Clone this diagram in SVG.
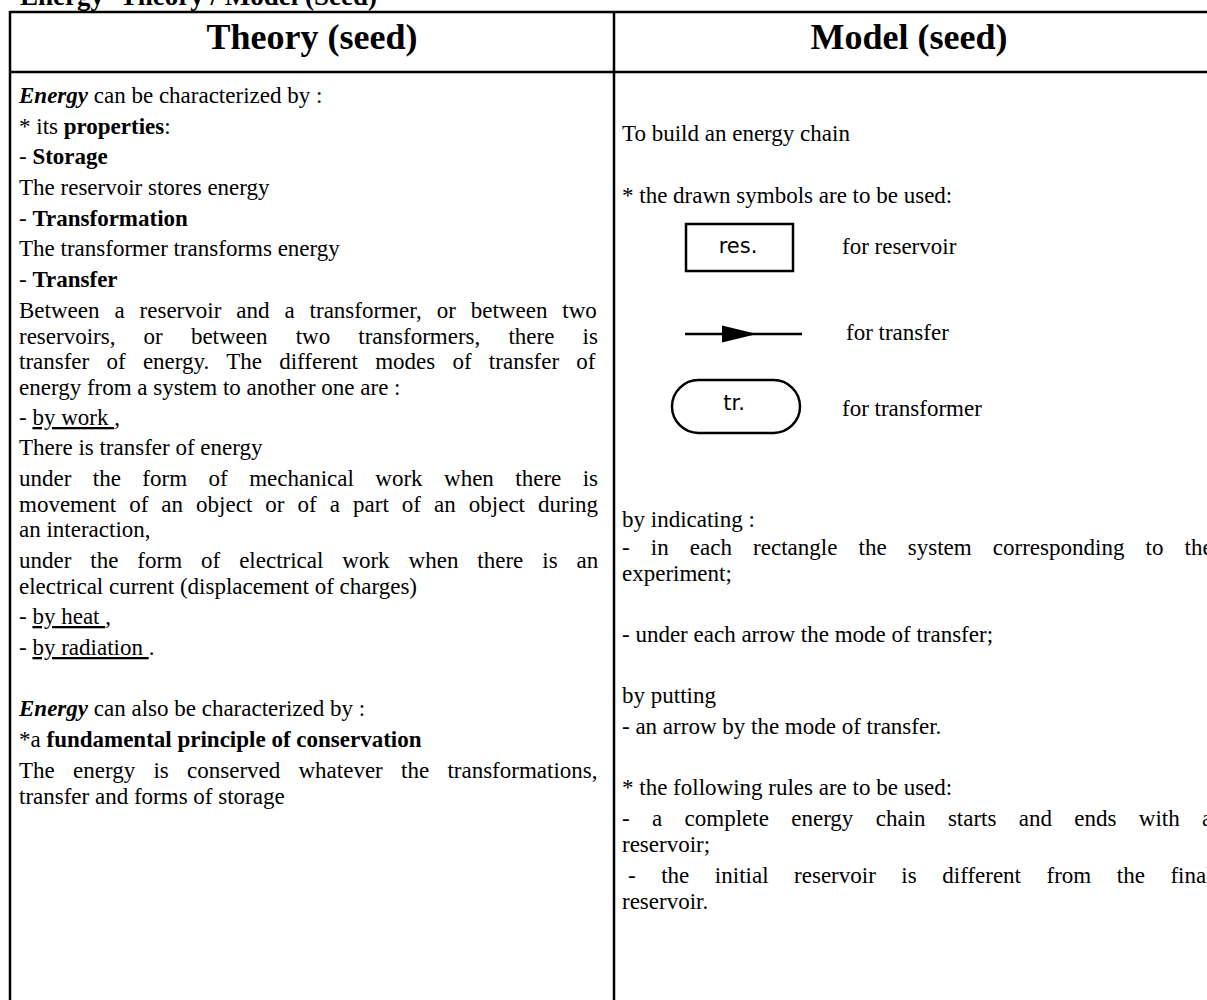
<svg xmlns="http://www.w3.org/2000/svg" width="1207" height="1000" viewBox="0 0 1207 1000">
<style>
  .t { font-family: "Liberation Serif", "Times New Roman", serif; font-size: 23px; fill: #000; }
  .h { font-family: "Liberation Serif", "Times New Roman", serif; font-size: 36px; font-weight: bold; fill: #000; }
  .title { font-family: "Liberation Serif", "Times New Roman", serif; font-size: 27px; font-weight: bold; fill: #000; }
  .s { font-family: "DejaVu Sans", "Verdana", sans-serif; font-size: 21px; fill: #000; }
  .b { font-weight: bold; }
  .bi { font-weight: bold; font-style: italic; }
  .u { text-decoration: underline; }
  .grid { stroke: #000; stroke-width: 2.5; fill: none; }
  .sym { stroke: #000; stroke-width: 2.5; fill: none; }
</style>
<rect x="0" y="0" width="1207" height="1000" fill="#fff"/>
<g id="title">
  <text class="title" x="20" y="5">Energy -Theory / Model (Seed)</text>
</g>
<g id="table-frame">
  <line class="grid" x1="10" y1="12" x2="1207" y2="12"/>
  <line class="grid" x1="10" y1="72" x2="1207" y2="72"/>
  <line class="grid" x1="10" y1="11" x2="10" y2="1000"/>
  <line class="grid" x1="614" y1="11" x2="614" y2="1000"/>
</g>
<g id="headers">
  <text class="h" x="312" y="49" text-anchor="middle">Theory (seed)</text>
  <text class="h" x="909" y="49" text-anchor="middle">Model (seed)</text>
</g>
<g id="theory-column" xml:space="preserve">
  <text class="t" x="19" y="103"><tspan class="bi">Energy</tspan>  can be characterized by :</text>
  <text class="t" x="19" y="134">* its <tspan class="b">properties</tspan>:</text>
  <text class="t" x="19" y="164">- <tspan class="b">Storage</tspan></text>
  <text class="t" x="19" y="195">The reservoir stores energy</text>
  <text class="t" x="19" y="226">- <tspan class="b">Transformation</tspan></text>
  <text class="t" x="19" y="256">The transformer transforms energy</text>
  <text class="t" x="19" y="287">- <tspan class="b">Transfer</tspan></text>
  <text class="t" x="19" y="318" word-spacing="9.2">Between a reservoir and a transformer, or between two</text>
  <text class="t" x="19" y="344" word-spacing="22.4">reservoirs, or between two transformers, there is</text>
  <text class="t" x="19" y="369" word-spacing="11.5">transfer of energy. The different modes of transfer of</text>
  <text class="t" x="19" y="395">energy from a  system to another one are :</text>
  <text class="t" x="19" y="425">- <tspan class="u">by work </tspan>,</text>
  <text class="t" x="19" y="455">There is transfer of energy</text>
  <text class="t" x="19" y="486" word-spacing="15.7">under the form of mechanical work when there is</text>
  <text class="t" x="19" y="512" word-spacing="7.3">movement of an object or of a part of an object during</text>
  <text class="t" x="19" y="537">an interaction,</text>
  <text class="t" x="19" y="568" word-spacing="13.2">under the form of electrical work when there is an</text>
  <text class="t" x="19" y="594">electrical current (displacement of charges)</text>
  <text class="t" x="19" y="624">- <tspan class="u">by heat </tspan>,</text>
  <text class="t" x="19" y="655">- <tspan class="u">by radiation </tspan>.</text>
  <text class="t" x="19" y="716"><tspan class="bi">Energy</tspan>  can also be characterized by :</text>
  <text class="t" x="19" y="747">*a <tspan class="b">fundamental principle of conservation</tspan></text>
  <text class="t" x="19" y="778" word-spacing="12.5">The energy is conserved whatever the transformations,</text>
  <text class="t" x="19" y="804">transfer and forms of storage</text>
</g>
<g id="model-column">
  <text class="t" x="622" y="141">To build an energy chain</text>
  <text class="t" x="622" y="203">* the drawn symbols are to be used:</text>
  <text class="t" x="622" y="527">by indicating :</text>
  <text class="t" x="622" y="555" word-spacing="15.4">- in each rectangle the system corresponding to the</text>
  <text class="t" x="622" y="581">experiment;</text>
  <text class="t" x="622" y="642">- under each arrow the mode of transfer;</text>
  <text class="t" x="622" y="703">by putting</text>
  <text class="t" x="622" y="734">- an arrow by the mode of transfer.</text>
  <text class="t" x="622" y="795">* the following rules are to be used:</text>
  <text class="t" x="622" y="826" word-spacing="16.6">- a complete energy chain starts and ends with a</text>
  <text class="t" x="622" y="852">reservoir;</text>
  <text class="t" x="628" y="883" word-spacing="19.8">- the initial reservoir is different from the final</text>
  <text class="t" x="622" y="909">reservoir.</text>
</g>
<g id="symbol-reservoir">
  <rect class="sym" x="686" y="224" width="107" height="47"/>
  <text class="s" x="738" y="253" text-anchor="middle">res.</text>
  <text class="t" x="842" y="254">for reservoir</text>
</g>
<g id="symbol-transfer">
  <line class="sym" x1="685" y1="334" x2="802" y2="334"/>
  <polygon points="722,325.5 757,334 722,342.5" fill="#000"/>
  <text class="t" x="846" y="340">for transfer</text>
</g>
<g id="symbol-transformer">
  <rect class="sym" x="672" y="380" width="128" height="53" rx="26.5" ry="26.5"/>
  <text class="s" x="734" y="410" text-anchor="middle">tr.</text>
  <text class="t" x="842" y="416">for transformer</text>
</g>
</svg>
